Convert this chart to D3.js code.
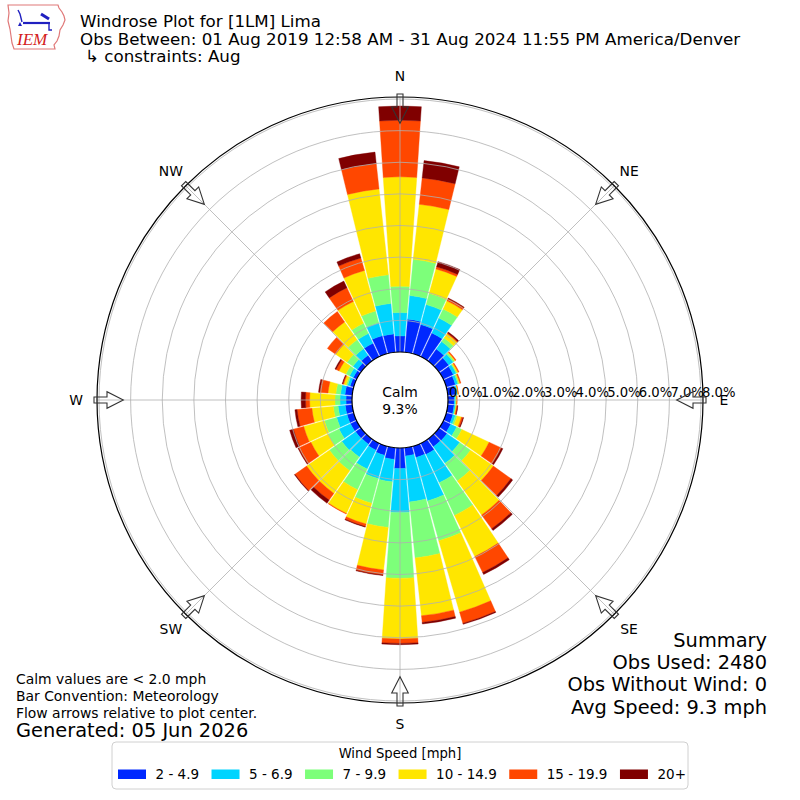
<!DOCTYPE html>
<html lang="en">
<head>
<meta charset="utf-8">
<title>Windrose Plot for [1LM] Lima</title>
<script src="https://cdn.jsdelivr.net/npm/d3@7/dist/d3.min.js"></script>
<style>
  body { margin: 0; background: #fff; }
  text { font-family: "DejaVu Sans", sans-serif; fill: #000; }
</style>
</head>
<body>
<script>
// direction bins (degrees, meteorological convention)
var directions = [0,10,20,30,40,50,60,70,80,90,100,110,120,130,140,150,160,170,
                  180,190,200,210,220,230,240,250,260,270,280,290,300,310,320,330,340,350];
var speedBins = ["2 - 4.9", "5 - 6.9", "7 - 9.9", "10 - 14.9", "15 - 19.9", "20+"];

// frequency (%) per direction for each speed bin
var spd2  = [0.51,1.05,0.96,0.83,0.46,0.38,0.35,0.30,0.25,0.20,0.20,0.22,0.26,0.31,0.30,0.39,0.37,0.26,
             0.65,0.37,0.30,0.24,0.20,0.21,0.22,0.22,0.22,0.19,0.23,0.12,0.12,0.14,0.22,0.47,0.59,0.58];
var spd5  = [0.74,0.75,0.65,0.52,0.29,0.17,0.10,0.08,0.05,0.04,0.04,0.08,0.21,0.49,0.64,0.99,1.42,1.46,
             1.39,0.71,0.76,0.66,0.50,0.53,0.40,0.34,0.23,0.19,0.14,0.08,0.13,0.17,0.25,0.34,0.43,0.97];
var spd7  = [0.83,1.15,0.37,0.32,0.14,0.05,0.03,0.04,0.02,0.02,0.02,0.06,0.18,0.42,0.68,1.14,1.31,1.78,
             2.08,1.45,0.81,0.72,0.53,0.48,0.38,0.40,0.15,0.16,0.15,0.05,0.13,0.23,0.35,0.36,0.38,0.91];
var spd10 = [3.46,1.75,0.80,0.28,0.16,0.03,0.04,0.03,0.01,0.02,0.02,0.14,0.95,0.88,1.32,1.45,2.35,1.84,
             1.92,1.35,0.68,0.83,0.87,0.88,0.60,0.68,0.68,0.80,0.25,0.08,0.24,0.44,0.69,0.76,1.33,2.73];
var spd15 = [1.79,0.84,0.07,0.08,0.03,0.03,0.03,0.03,0.01,0.01,0.03,0.05,0.43,0.68,0.54,0.56,0.37,0.21,
             0.14,0.16,0.08,0.02,0.26,0.45,0.43,0.34,0.47,0.13,0.26,0.03,0.10,0.32,0.40,0.48,0.41,0.81];
var spd20 = [0.45,0.55,0.17,0.02,0.04,0.00,0.00,0.00,0.00,0.00,0.01,0.02,0.05,0.07,0.07,0.07,0.03,0.05,
             0.04,0.02,0.02,0.00,0.12,0.02,0.02,0.12,0.07,0.14,0.04,0.02,0.04,0.00,0.00,0.23,0.14,0.36];

var radialTicks = [0,1,2,3,4,5,6,7,8];
var compass = ["N","NE","E","SE","S","SW","W","NW"];
var compassAngles = [0,45,90,135,180,225,270,315];

var calmPct = "9.3%";
var summaryLines = ["Summary", "Obs Used: 2480", "Obs Without Wind: 0", "Avg Speed: 9.3 mph"];
var noteLines = ["Calm values are < 2.0 mph", "Bar Convention: Meteorology", "Flow arrows relative to plot center."];

var colors = ["#0028ff", "#00d4ff", "#7dff7a", "#ffe600", "#ff4700", "#800000"];

var w = 800, h = 800, cx = 400, cy = 400;
var svg = d3.select("body").append("svg").attr("width", w).attr("height", h);

// build table for stacking
var series = [spd2, spd5, spd7, spd10, spd15, spd20];
var table = directions.map(function(d, i) {
  var row = {dir: d};
  speedBins.forEach(function(k, j) { row[k] = series[j][i]; });
  return row;
});
var stacked = d3.stack().keys(speedBins)(table);

var r = d3.scaleLinear().domain([0, 8]).range([48, 301]);
var color = d3.scaleOrdinal().domain(speedBins).range(colors);
var step = 10 * Math.PI / 180;

function barWidth(R) { return Math.min(0.13 * R + 4.5, R * step - 1.2); }

function segPath(dir, v0, v1) {
  var R0 = r(v0), R1 = r(v1);
  var a = (dir - 90) * Math.PI / 180;
  var d0 = barWidth(R0) / 2 / R0, d1 = barWidth(R1) / 2 / R1;
  var p = d3.path();
  p.moveTo(cx + R0 * Math.cos(a - d0), cy + R0 * Math.sin(a - d0));
  p.lineTo(cx + R1 * Math.cos(a - d1), cy + R1 * Math.sin(a - d1));
  p.arc(cx, cy, R1, a - d1, a + d1, false);
  p.lineTo(cx + R0 * Math.cos(a + d0), cy + R0 * Math.sin(a + d0));
  p.arc(cx, cy, R0, a + d0, a - d0, true);
  p.closePath();
  return p.toString();
}

// bars
var layers = svg.append("g").selectAll("g")
  .data(stacked).enter().append("g")
  .attr("fill", function(s) { return color(s.key); })
  .attr("stroke", function(s) { return color(s.key); })
  .attr("stroke-width", 0.4);
layers.selectAll("path")
  .data(function(s) { return s.filter(function(d) { return d[1] - d[0] > 0.001; }); })
  .enter().append("path")
  .attr("d", function(d) { return segPath(d.data.dir, d[0], d[1]); });

// grid
var grid = svg.append("g").attr("fill", "none").attr("stroke", "#b0b0b0").attr("stroke-width", 0.8);
grid.selectAll("circle").data(radialTicks.slice(1)).enter().append("circle")
  .attr("cx", cx).attr("cy", cy).attr("r", function(d) { return r(d); });
grid.selectAll("line").data(compassAngles).enter().append("line")
  .attr("x1", function(d) { return cx + r(0) * Math.sin(d * Math.PI / 180); })
  .attr("y1", function(d) { return cy - r(0) * Math.cos(d * Math.PI / 180); })
  .attr("x2", function(d) { return cx + (r(8) + 2) * Math.sin(d * Math.PI / 180); })
  .attr("y2", function(d) { return cy - (r(8) + 2) * Math.cos(d * Math.PI / 180); });

// outer spine
svg.append("circle").attr("cx", cx).attr("cy", cy).attr("r", r(8) + 2)
  .attr("fill", "none").attr("stroke", "#000").attr("stroke-width", 1.2);

// calm circle
svg.append("circle").attr("cx", cx).attr("cy", cy).attr("r", r(0))
  .attr("fill", "#fff").attr("stroke", "#000").attr("stroke-width", 1.2);
svg.append("text").attr("x", cx).attr("y", 397).attr("text-anchor", "middle")
  .style("font-size", "13.9px").text("Calm");
svg.append("text").attr("x", cx).attr("y", 414).attr("text-anchor", "middle")
  .style("font-size", "13.9px").text(calmPct);

// radial tick labels
svg.append("g").selectAll("text").data(radialTicks).enter().append("text")
  .attr("x", function(d) { return cx + r(d) + 1; })
  .attr("y", 397)
  .style("font-size", "13.2px")
  .text(function(d) { return d.toFixed(1) + "%"; });

// flow arrows pointing to center
function arrowPts(deg) {
  var t = deg * Math.PI / 180;
  var ux = Math.sin(t), uy = -Math.cos(t), px = Math.cos(t), py = Math.sin(t);
  var pts = [[306, -3], [293, -3], [293, -8.3], [276.7, 0], [293, 8.3], [293, 3], [306, 3]];
  return pts.map(function(q) {
    return [cx + q[0] * ux + q[1] * px, cy + q[0] * uy + q[1] * py].join(",");
  }).join(" ");
}
svg.append("g").selectAll("polygon").data(compassAngles).enter().append("polygon")
  .attr("points", function(d) { return arrowPts(d); })
  .attr("fill", "none").attr("stroke", "#333").attr("stroke-width", 1.1);

// compass labels
svg.append("g").selectAll("text").data(compass).enter().append("text")
  .attr("x", function(d, i) { return cx + 324 * Math.sin(compassAngles[i] * Math.PI / 180); })
  .attr("y", function(d, i) { return cy - 324 * Math.cos(compassAngles[i] * Math.PI / 180) + 5; })
  .attr("text-anchor", "middle")
  .style("font-size", "13.9px")
  .text(function(d) { return d; });

// titles
svg.append("text").attr("x", 80).attr("y", 27).style("font-size", "16.7px").text("Windrose Plot for [1LM] Lima");
svg.append("text").attr("x", 80).attr("y", 45).style("font-size", "16.7px")
  .text("Obs Between: 01 Aug 2019 12:58 AM - 31 Aug 2024 11:55 PM America/Denver");
svg.append("text").attr("x", 85).attr("y", 62).style("font-size", "16.7px").text("\u21b3 constraints: Aug");

// IEM logo
var logo = svg.append("g");
logo.append("path")
  .attr("d", "M8,5 L58,5 L59,8 L62,12 L64,16 L65,20 L63,25 L60,30 L59,36 L57,41 L54,45 L55,49 L14,49 L12,43 L11,36 L10,29 L8,21 L9,13 Z")
  .attr("fill", "none").attr("stroke", "#e07878").attr("stroke-width", 1.2);
logo.append("path").attr("d", "M18,10 L20,14 L22,22").attr("fill", "none").attr("stroke", "#2020c0").attr("stroke-width", 1.4);
logo.append("line").attr("x1", 23).attr("y1", 23).attr("x2", 50).attr("y2", 23).attr("stroke", "#2020c0").attr("stroke-width", 2.2);
logo.append("line").attr("x1", 41).attr("y1", 14).attr("x2", 49).attr("y2", 19).attr("stroke", "#2020c0").attr("stroke-width", 3);
logo.append("path").attr("d", "M49,23 L49,30 L52,30").attr("fill", "none").attr("stroke", "#2020c0").attr("stroke-width", 1.4);
logo.append("path").attr("d", "M18,26 L20,22 L22,26 Z").attr("fill", "#2020c0");
logo.append("text").attr("x", 17).attr("y", 45)
  .style("font-family", "'Liberation Serif', serif").style("font-style", "italic")
  .style("font-size", "17px").style("fill", "#d42020").text("IEM");

// notes bottom-left
svg.append("g").selectAll("text").data(noteLines).enter().append("text")
  .attr("x", 16).attr("y", function(d, i) { return 684 + i * 16.8; })
  .style("font-size", "13.9px").text(function(d) { return d; });
svg.append("text").attr("x", 16).attr("y", 737).style("font-size", "19.4px").text("Generated: 05 Jun 2026");

// summary bottom-right
svg.append("g").selectAll("text").data(summaryLines).enter().append("text")
  .attr("x", 767).attr("y", function(d, i) { return 647 + i * 22.2; })
  .attr("text-anchor", "end")
  .style("font-size", "19.4px").text(function(d) { return d; });

// legend
var leg = svg.append("g");
leg.append("rect").attr("x", 112).attr("y", 742).attr("width", 576).attr("height", 47).attr("rx", 4)
  .attr("fill", "#fff").attr("stroke", "#d0d0d0");
leg.append("text").attr("x", 400).attr("y", 758).attr("text-anchor", "middle")
  .style("font-size", "13.2px").text("Wind Speed [mph]");
var lx = 118;
speedBins.forEach(function(k) {
  leg.append("rect").attr("x", lx).attr("y", 769.5).attr("width", 28).attr("height", 9.5).attr("fill", color(k));
  var t = leg.append("text").attr("x", lx + 37.5).attr("y", 779).style("font-size", "13.5px").text(k);
  lx = lx + 37.5 + t.node().getComputedTextLength() + 12.5;
});
</script>
</body>
</html>
